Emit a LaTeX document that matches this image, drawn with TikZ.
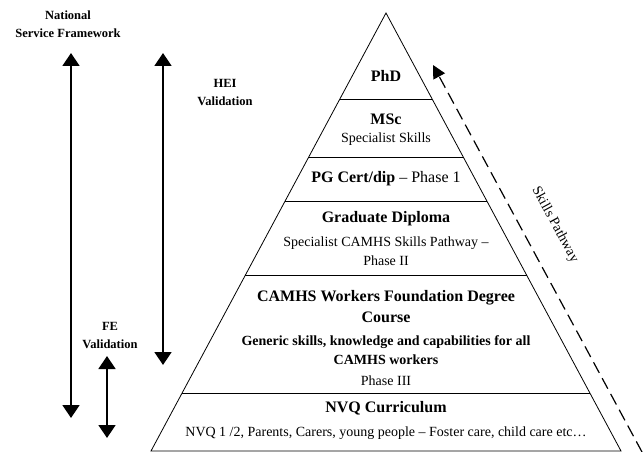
\documentclass[tikz,border=0pt]{standalone}
\usepackage{fontspec}
\setmainfont{Liberation Serif}
\usetikzlibrary{arrows.meta,positioning}

\tikzset{
  tier/.style={font=\fontsize{16}{21}\selectfont\bfseries, align=center, inner sep=0pt},
  subtier/.style={font=\fontsize{14}{19}\selectfont\bfseries, align=center, inner sep=0pt},
  note/.style={font=\fontsize{14}{19}\selectfont, align=center, inner sep=0pt},
  side/.style={font=\fontsize{12.5}{18}\selectfont\bfseries, align=center, inner sep=0pt},
  span/.style={<->, >={Triangle[width=17pt,length=13pt]}, line width=1.5pt},
  layer/.style={line width=0.8pt},
}

\begin{document}
\begin{tikzpicture}[x=1pt,y=-1pt]
  \useasboundingbox (0,0) rectangle (643,452);
  % pyramid
  \coordinate (apex) at (386,13);
  \coordinate (base left) at (151,451);
  \coordinate (base right) at (621,451);
  \draw[layer] (apex) -- (base left) -- (base right) -- cycle;
  \foreach \y in {99,157,201,275,393}{
    \pgfmathsetmacro\hw{0.5365*(\y-13)}
    \draw[layer] (386-\hw,\y) -- (386+\hw,\y);
  }

  \node[tier] (phd) at (386,76) {PhD};
  \node[tier] (msc) at (386,119) {MSc};
  \node[note] (msc skills) at (386,139) {Specialist Skills};
  \node[tier] (pgcert) at (386,179) {PG Cert/dip {\mdseries -- Phase 1}};
  \node[tier] (gdip) at (386,219) {Graduate Diploma};
  \node[note] (gdip skills) at (386,251) {Specialist CAMHS Skills Pathway --\\Phase II};
  \node[tier] (fdeg) at (386,307) {CAMHS Workers Foundation Degree\\Course};
  \node[subtier] (generic) at (386,350) {Generic skills, knowledge and capabilities for all\\CAMHS workers};
  \node[note] (phase3) at (386,381) {Phase III};
  \node[tier] (nvq) at (386,408) {NVQ Curriculum};
  \node[note] (nvq list) at (386,433) {NVQ 1 /2, Parents, Carers, young people -- Foster care, child care etc\ldots};

  % validation spans
  \node[side] (nsf) at (68,24) {National\\Service Framework};
  \node[side] (hei) at (225,93) {HEI\\Validation};
  \node[side] (fe) at (110,336) {FE\\Validation};
  \coordinate (nsf top) at (71,53);
  \coordinate (nsf bottom) at (71,418);
  \coordinate (hei top) at (163,53);
  \coordinate (hei bottom) at (163,365);
  \coordinate (fe top) at (107,356);
  \coordinate (fe bottom) at (107,438);
  \draw[span] (nsf top) -- (nsf bottom);
  \draw[span] (hei top) -- (hei bottom);
  \draw[span] (fe top) -- (fe bottom);

  % skills pathway
  \coordinate (path start) at (642,452);
  \coordinate (path end) at (433,65);
  \draw[dash pattern=on 12pt off 6pt, line width=1.2pt, -{Triangle[width=13pt,length=13pt]}] (path start) -- (path end);
  \node[note, rotate=-61.6] (skills) at (555,225) {Skills Pathway};
\end{tikzpicture}
\end{document}
